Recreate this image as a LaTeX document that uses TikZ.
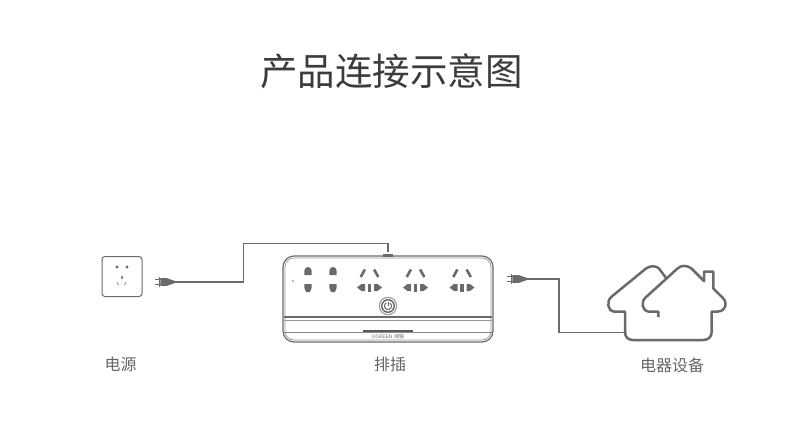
\documentclass[tikz,border=0pt]{standalone}
\usepackage{fontspec}
\newfontfamily\cjk{Noto Sans CJK SC}
\definecolor{ln}{HTML}{6A6A6A}
\definecolor{ttl}{HTML}{3C3C3C}
\definecolor{lab}{HTML}{666666}
\tikzset{
  ttlstyle/.style={font=\cjk\fontsize{37.5}{38}\selectfont,text=ttl,inner sep=0pt},
  labstyle/.style={font=\cjk\fontsize{16}{16}\selectfont,text=lab,inner sep=0pt},
  cable/.style={draw=ln,line width=1.2pt,line join=miter},
  house/.style={draw=ln,line width=2.5pt,line join=round,line cap=butt},
}
\newcommand{\plugicon}[2]{%
  \begin{scope}[shift={(#1,#2)}]
    \fill[ln] (-10,-3.2) rectangle (-1.5,-1.9);
    \fill[ln] (-10,1.9) rectangle (-1.5,3.2);
    \fill[ln] (-6,-4.6) rectangle (-4.6,4.6);
    \fill[ln] (-4.6,-3.8) -- (2,-3.8) -- (10,-1) -- (10,1) -- (2,3.8) -- (-4.6,3.8) -- cycle;
  \end{scope}}
\newcommand{\threepin}[1]{%
  \begin{scope}[shift={(#1,0)}]
    \draw[ln,line width=2.6pt] (-8.8,277) -- (-4.6,269.5);
    \draw[ln,line width=2.6pt] (8.8,277) -- (4.6,269.5);
    \fill[ln] (-1.7,283.5) rectangle (1.7,291.5);
    \fill[ln] (-12.5,287.5) -- (-8,284) -- (-4.5,284) -- (-4.5,291) -- (-8,291) -- cycle;
    \fill[ln] (12.5,287.5) -- (8,284) -- (4.5,284) -- (4.5,291) -- (8,291) -- cycle;
  \end{scope}}
\newcommand{\twopin}[1]{%
  \begin{scope}[shift={(#1,0)}]
    \fill[ln] (-3.6,275) -- (-3.6,270.6) arc[start angle=180,end angle=360,radius=3.6] -- (3.6,275) -- cycle;
    \fill[ln] (-3.6,284) -- (3.6,284) -- (3.6,288) -- (2,292) -- (-2,292) -- (-3.6,288) -- cycle;
  \end{scope}}
\begin{document}
\begin{tikzpicture}[x=1pt,y=-1pt]
\useasboundingbox (0,0) rectangle (790,442);
\fill[white] (0,0) rectangle (790,442);

\node[ttlstyle] (title) at (391.5,71) {产品连接示意图};
\node[labstyle] (l1) at (120.5,364) {电源};
\node[labstyle] (l2) at (390,364) {排插};
\node[labstyle] (l3) at (672,365) {电器设备};

% wall socket
\draw[ln,line width=1pt,rounded corners=3pt] (102,256.5) rectangle (142,296.5);
\fill[ln] (117,267) circle (1.7) (127,267) circle (1.7);
\fill[ln!80] (121.4,275.5) rectangle (122.6,279);
\draw[ln!80,line width=.8pt] (117,282) -- (118.5,285);
\draw[ln!80,line width=.8pt] (126,282) -- (124.5,285);

% cables
\plugicon{165}{282}
\coordinate (p1) at (175,282);
\coordinate (sw) at (388,252);
\draw[cable] (p1) -- (243.5,282) -- (243.5,243.5) -- (388,243.5) -- (sw);
\draw[ln,line width=1.6pt] (175,282) -- (243,282);
\plugicon{517}{279}
\coordinate (p2) at (527,279);
\coordinate (hs) at (625,332.5);
\draw[cable] (p2) -- (559,279) -- (559,332.5) -- (hs);
\draw[ln,line width=1.6pt] (578,332.5) -- (614,332.5);
\draw[ln,line width=1.6pt] (527,278.8) -- (545,278.8);
\fill[ln] (383,253.5) rectangle (393,256.5);

% power strip
\draw[ln,line width=1.2pt,rounded corners=11pt] (283,256) rectangle (493,342);
\draw[ln!70,line width=.7pt,rounded corners=9pt] (285,258) rectangle (491,340);
\draw[ln,line width=1.1pt] (284,317) -- (492,317);
\draw[ln!70,line width=.8pt] (284,320) -- (492,320);
\draw[ln!80,line width=1pt] (284,332.5) -- (492,332.5);
\fill[ln!85!black] (363,330.2) rectangle (413,332);
\node[inner sep=0pt,text=ln,font=\sffamily\fontsize{5}{5}\selectfont] (brand) at (388,336.7) {UGREEN {\cjk 绿联}};
\fill[ln] (293,281) circle (.8);
\twopin{308}
\twopin{333}
\threepin{369.5}
\threepin{415.5}
\threepin{462}
% button
\fill[ln!70] (388,306) circle (9.2);
\fill[white] (388,306) circle (8);
\fill[ln] (388,306) circle (7);
\fill[white] (388,306) circle (5.6);
\draw[ln,line width=1pt] (389.8,302.9) arc[start angle=-60,end angle=240,radius=3.6];
\draw[ln,line width=1pt] (388,301.5) -- (388,305.5);

% house
\draw[house] (625,333) -- (625,311.7) -- (614,311.7)
  .. controls (608.5,311.7) and (605.5,301.5) .. (611.5,296.7)
  -- (646,268.5) .. controls (650,265.5) and (656,265.5) .. (659,268.5)
  -- (666,278);
\draw[house] (658.3,317) -- (658.3,311.7) -- (649,311.7)
  .. controls (642,311) and (640,301.5) .. (646.5,296.7)
  -- (677.5,268.5) .. controls (681,265) and (687,265) .. (691.5,268.5)
  -- (704,281) -- (704,271.7) -- (713.3,271.7) -- (713.3,288.5)
  -- (722.5,297.5) .. controls (728,303) and (726,311) .. (718,311.5)
  -- (711.7,311.7) -- (711.7,332) .. controls (711.7,337) and (708,340) .. (703,340)
  -- (633,340) .. controls (628,340) and (625,337) .. (625,332);
\end{tikzpicture}
\end{document}
